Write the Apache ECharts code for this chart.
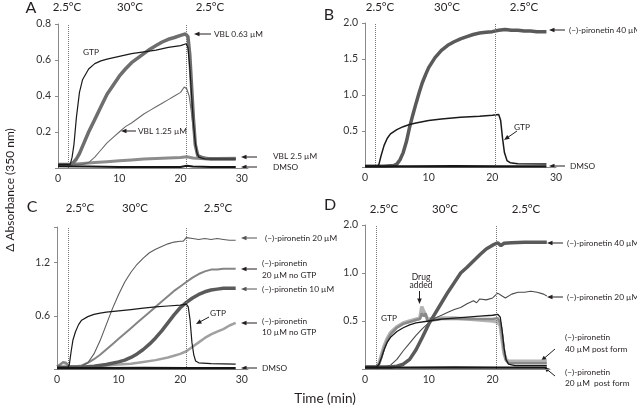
<!DOCTYPE html>
<html><head><meta charset="utf-8">
<script src="https://cdn.jsdelivr.net/npm/echarts@6/dist/echarts.min.js"></script>
<style>html,body{margin:0;padding:0;background:#fff}#c{width:637px;height:413px}</style>
</head><body><div id="c"></div>
<script>
// ---------- Panel A (time min, ΔA350) ----------
const aGTP = [[0,0.02],[1,0.02],[2,0.02],[2.3,0.06],[2.6,0.13],[3,0.28],[3.5,0.42],[4,0.49],[5,0.55],[6,0.58],[7,0.595],[8,0.605],[10,0.62],[12,0.635],[14,0.645],[16,0.655],[18,0.67],[20,0.68],[20.9,0.69],[21.2,0.67],[21.5,0.56],[21.8,0.4],[22.1,0.25],[22.4,0.14],[22.7,0.08],[23,0.06],[24,0.05],[26,0.05],[29,0.05]];
const aVBL063 = [[0,0.02],[2,0.02],[2.5,0.03],[3,0.05],[3.5,0.08],[4,0.12],[5,0.2],[6,0.27],[7,0.34],[8,0.41],[9,0.46],[10,0.51],[11,0.55],[12,0.585],[13,0.61],[14,0.635],[15,0.66],[16,0.68],[17,0.7],[18,0.715],[19,0.725],[20,0.737],[20.8,0.745],[21.2,0.73],[21.5,0.63],[21.8,0.45],[22.1,0.27],[22.4,0.13],[22.8,0.07],[23.5,0.055],[25,0.05],[27,0.05],[29,0.05]];
const aVBL125 = [[0,0.02],[4,0.02],[5,0.03],[6,0.06],[7,0.1],[8,0.14],[9,0.17],[10,0.2],[11,0.23],[12,0.25],[13,0.275],[14,0.3],[15,0.32],[16,0.34],[17,0.36],[18,0.38],[19,0.4],[20,0.42],[20.6,0.45],[21,0.44],[21.4,0.4],[21.8,0.3],[22.2,0.18],[22.6,0.1],[23,0.07],[24,0.06],[26,0.055],[29,0.055]];
const aVBL25 = [[0,0.02],[2,0.02],[4,0.025],[6,0.03],[8,0.035],[10,0.04],[12,0.045],[14,0.05],[16,0.053],[18,0.056],[20,0.058],[21,0.063],[22,0.056],[24,0.052],[26,0.053],[29,0.054]];
const aDMSO = [[0,0.01],[5,0.008],[10,0.005],[15,0.005],[20,0.006],[21,0.012],[22,0.008],[25,0.005],[29,0.005]];

// ---------- Panel B ----------
const bPir40 = [[0,0.01],[3,0.01],[4.5,0.02],[5,0.04],[5.5,0.1],[6,0.2],[6.5,0.35],[7,0.55],[7.5,0.72],[8,0.88],[8.5,1.03],[9,1.17],[9.5,1.28],[10,1.38],[11,1.52],[12,1.62],[13,1.69],[14,1.74],[15,1.78],[16,1.81],[17,1.84],[18,1.86],[19,1.87],[20,1.88],[21,1.9],[22,1.91],[23,1.9],[24,1.9],[25,1.89],[26,1.89],[27,1.88],[28.5,1.88]];
const bGTP = [[0,0.01],[2,0.01],[2.2,0.04],[2.5,0.15],[3,0.3],[3.5,0.4],[4,0.46],[5,0.52],[6,0.56],[7,0.59],[8,0.61],[10,0.645],[12,0.665],[15,0.69],[18,0.705],[20,0.72],[21,0.73],[21.3,0.65],[21.6,0.4],[21.9,0.2],[22.3,0.09],[22.8,0.06],[24,0.045],[28.5,0.04]];
const bDMSO = [[0,0.01],[7,0.01],[14,0.012],[21,0.01],[28.5,0.01]];

// ---------- Panel C ----------
const cPir20 = [[0,0.02],[2,0.02],[4,0.03],[5,0.07],[6,0.17],[7,0.32],[8,0.5],[9,0.68],[10,0.84],[11,0.98],[12,1.09],[13,1.18],[14,1.25],[15,1.31],[16,1.35],[17,1.38],[18,1.41],[19,1.43],[20,1.44],[20.5,1.44],[21,1.48],[22,1.47],[23,1.46],[24,1.47],[25,1.46],[26,1.47],[27,1.46],[28,1.45],[29,1.45]];
const cPir20noGTP = [[0,0.03],[0.5,0.05],[1,0.08],[1.5,0.07],[2,0.03],[3,0.03],[4,0.04],[5,0.07],[6,0.11],[7,0.16],[8,0.22],[9,0.28],[10,0.34],[11,0.4],[12,0.46],[13,0.52],[14,0.58],[15,0.64],[16,0.7],[17,0.76],[18,0.82],[19,0.88],[20,0.93],[21,0.98],[22,1.03],[23,1.07],[24,1.1],[25,1.12],[26,1.12],[27,1.13],[28,1.13],[29,1.13]];
const cPir10 = [[0,0.02],[4,0.02],[6,0.03],[8,0.05],[10,0.08],[11,0.1],[12,0.13],[13,0.17],[14,0.22],[15,0.28],[16,0.35],[17,0.43],[18,0.52],[19,0.61],[20,0.69],[21,0.75],[22,0.8],[23,0.84],[24,0.87],[25,0.89],[26,0.9],[27,0.91],[28,0.91],[29,0.91]];
const cPir10noGTP = [[0,0.03],[0.5,0.05],[1,0.07],[1.5,0.06],[2,0.03],[4,0.02],[6,0.03],[8,0.04],[10,0.05],[12,0.06],[14,0.08],[16,0.1],[18,0.13],[19,0.15],[20,0.17],[21,0.2],[22,0.25],[23,0.3],[24,0.35],[25,0.39],[26,0.42],[27,0.45],[28,0.49],[29,0.52]];
const cGTP = [[0,0.02],[1.8,0.02],[2.0,0.05],[2.3,0.2],[2.6,0.33],[3,0.42],[3.5,0.5],[4,0.55],[5,0.59],[6,0.615],[7,0.63],[8,0.64],[10,0.655],[12,0.67],[14,0.685],[16,0.7],[18,0.71],[20,0.72],[21,0.73],[21.3,0.7],[21.6,0.55],[21.9,0.3],[22.2,0.16],[22.5,0.09],[23,0.07],[25,0.06],[29,0.055]];
const cDMSO = [[0,0.01],[7,0.01],[14,0.012],[21,0.01],[29,0.01]];

// ---------- Panel D ----------
const dPir40 = [[0,0.02],[4,0.02],[5,0.03],[6,0.05],[7,0.1],[8,0.2],[9,0.33],[10,0.47],[11,0.58],[12,0.69],[13,0.8],[14,0.9],[15,1.0],[16,1.12],[17,1.25],[18,1.38],[19,1.5],[20,1.58],[20.8,1.63],[21.3,1.57],[21.8,1.62],[23,1.63],[25,1.64],[27,1.64],[28.5,1.64]];
const dPir20 = [[0,0.02],[3,0.02],[4,0.04],[5,0.1],[6,0.19],[7,0.27],[8,0.35],[9,0.42],[10,0.48],[11,0.53],[12,0.56],[13,0.59],[14,0.62],[15,0.64],[16,0.68],[17,0.71],[17.5,0.69],[18,0.73],[19,0.72],[20,0.74],[20.8,0.79],[21.5,0.76],[22,0.74],[23,0.78],[24,0.8],[25,0.8],[26,0.81],[27,0.8],[28,0.78],[28.5,0.76]];
const dGTP = [[0,0.02],[1.8,0.02],[2.2,0.05],[2.6,0.12],[3,0.2],[3.5,0.28],[4,0.33],[5,0.39],[6,0.43],[7,0.46],[8,0.48],[10,0.5],[12,0.52],[14,0.53],[16,0.54],[18,0.55],[20,0.56],[20.8,0.57],[21.2,0.54],[21.5,0.4],[21.8,0.22],[22.1,0.1],[22.5,0.05],[23.5,0.035],[28.5,0.035]];
const dPF40 = [[0,0.02],[1.8,0.02],[2.2,0.06],[2.6,0.15],[3,0.24],[3.5,0.32],[4,0.38],[5,0.44],[6,0.48],[7,0.5],[8,0.52],[8.6,0.53],[8.9,0.65],[9.2,0.6],[9.5,0.62],[9.8,0.52],[10,0.5],[11,0.52],[12,0.53],[14,0.53],[16,0.52],[18,0.51],[20,0.5],[20.8,0.49],[21.2,0.45],[21.5,0.3],[21.8,0.16],[22.1,0.1],[22.5,0.08],[25,0.08],[28.5,0.08]];
const dPF20 = [[0,0.02],[1.8,0.02],[2.2,0.05],[2.6,0.13],[3,0.22],[3.5,0.3],[4,0.36],[5,0.43],[6,0.47],[7,0.49],[8,0.51],[8.6,0.52],[8.9,0.58],[9.2,0.55],[9.5,0.58],[9.8,0.5],[10,0.48],[11,0.51],[12,0.52],[14,0.52],[16,0.52],[18,0.52],[20,0.52],[20.8,0.53],[21.2,0.48],[21.5,0.35],[21.8,0.18],[22.1,0.09],[22.5,0.06],[25,0.06],[28.5,0.06]];
const dDMSO = [[0,0.015],[7,0.015],[14,0.017],[21,0.015],[28.5,0.015]];

// Temperature-shift times (dotted lines) per panel
const shiftA = [1.7, 20.9];
const shiftB = [1.6, 20.5];
const shiftC = [1.8, 20.9];
const shiftD = [1.7, 20.5];

// Panel D uses a broken y scale: 0–1 expanded, 1–2 compressed
const yTicksD = ['', '0.5', '1.0', '2.0'];
const scaleD = v => v <= 1 ? v * 2 : 2 + (v - 1);

const FONT = 'Lato, "Noto Sans", sans-serif';
const chart = echarts.init(document.getElementById('c'), null, {renderer: 'canvas'});

const grids = [
  {left: 58, top: 24, width: 190, height: 144},
  {left: 365, top: 23, width: 191, height: 144},
  {left: 57, top: 227, width: 191, height: 142},
  {left: 365, top: 225, width: 185, height: 144}
].map(g => Object.assign({containLabel: false, outerBoundsMode: 'none'}, g));

const xMax = [31, 30, 31, 29];
const xAxes = xMax.map((m, i) => ({
  type: 'value', gridIndex: i, min: 0, max: m, interval: 10,
  axisLine: {show: true, lineStyle: {color: '#8a8a8a', width: 1}},
  axisTick: {show: false}, splitLine: {show: false},
  axisLabel: {fontSize: 10.5, color: '#333', fontFamily: FONT, margin: 5,
    formatter: v => (v % 10 === 0 ? String(v) : '')}
}));

function yAxis(i, max, interval, fmt) {
  return {
    type: 'value', gridIndex: i, min: 0, max, interval,
    axisLine: {show: true, lineStyle: {color: '#8a8a8a', width: 1}},
    axisTick: {show: true, length: 3, lineStyle: {color: '#8a8a8a'}},
    splitLine: {show: false},
    axisLabel: {fontSize: 10.5, color: '#333', fontFamily: FONT, margin: 7, formatter: fmt}
  };
}
const yAxes = [
  yAxis(0, 0.8, 0.2, v => v === 0 ? '' : v.toFixed(1)),
  yAxis(1, 2.0, 0.5, v => v === 0 ? '' : v.toFixed(1)),
  yAxis(2, 1.6, 0.6, v => {
    const k = v / 0.6;
    return (v > 0 && Math.abs(k - Math.round(k)) < 1e-6) ? v.toFixed(1) : '';
  }),
  yAxis(3, 3, 1, v => yTicksD[Math.round(v)] || '')
];

function S(gi, data, color, width, z) {
  return {
    type: 'line', xAxisIndex: gi, yAxisIndex: gi, data,
    showSymbol: false, symbol: 'none', smooth: false,
    lineStyle: {color, width}, itemStyle: {color},
    z: z || 2, silent: true, animation: false
  };
}
function shifts(gi, times) {
  return {
    type: 'line', xAxisIndex: gi, yAxisIndex: gi, data: [], silent: true,
    markLine: {
      silent: true, symbol: ['none', 'none'], animation: false,
      label: {show: false},
      lineStyle: {type: 'dotted', color: '#777', width: 1},
      data: times.map(t => ({xAxis: t}))
    }
  };
}
const D = arr => arr.map(([t, v]) => [t, scaleD(v)]);

const series = [
  shifts(0, shiftA), shifts(1, shiftB), shifts(2, shiftC), shifts(3, shiftD),
  // A
  S(0, aVBL25, '#8c8c8c', 3, 2),
  S(0, aVBL125, '#6a6a6a', 1.1, 3),
  S(0, aVBL063, '#6e6e6e', 3.5, 4),
  S(0, aGTP, '#1a1a1a', 1.2, 5),
  S(0, aDMSO, '#151515', 2, 6),
  // B
  S(1, bPir40, '#5a5a5a', 3.5, 3),
  S(1, bGTP, '#1a1a1a', 1.5, 4),
  S(1, bDMSO, '#151515', 2.2, 5),
  // C
  S(2, cPir10noGTP, '#a0a0a0', 2.5, 2),
  S(2, cPir20noGTP, '#858585', 2, 3),
  S(2, cPir10, '#5a5a5a', 3.5, 4),
  S(2, cPir20, '#5c5c5c', 1.1, 5),
  S(2, cGTP, '#1a1a1a', 1.2, 6),
  S(2, cDMSO, '#151515', 2.2, 7),
  // D
  S(3, D(dPF40), '#b3b3b3', 3.5, 2),
  S(3, D(dPF20), '#8a8a8a', 2.5, 3),
  S(3, D(dPir20), '#4a4a4a', 1.1, 4),
  S(3, D(dPir40), '#5a5a5a', 3.5, 5),
  S(3, D(dGTP), '#1a1a1a', 1.3, 6),
  S(3, D(dDMSO), '#151515', 2.2, 7)
];

// ---------- annotations ----------
function T(x, y, s, size, align, extra) {
  return Object.assign({
    type: 'text', x, y, silent: true,
    style: {text: s, fill: '#231f20', font: (size || 8.3) + 'px ' + FONT,
      textAlign: align || 'left', textVerticalAlign: 'middle'}
  }, extra || {});
}
function A(x1, y1, x2, y2, color) {
  color = color || '#231f20';
  const ang = Math.atan2(y2 - y1, x2 - x1), c = Math.cos(ang), s = Math.sin(ang);
  const L = 5.5, W = 2.3;
  return [
    {type: 'line', silent: true, shape: {x1, y1, x2: x2 - c * L * 0.7, y2: y2 - s * L * 0.7},
     style: {stroke: color, lineWidth: 1}},
    {type: 'polygon', silent: true,
     shape: {points: [[x2, y2], [x2 - L * c + W * s, y2 - L * s - W * c], [x2 - L * c - W * s, y2 - L * s + W * c]]},
     style: {fill: color}}
  ];
}
const TEMP = 11.5;
const g = [
  T(31, 8, 'A', 16, 'center'), T(329, 15, 'B', 16, 'center'),
  T(32, 207, 'C', 16, 'center'), T(330, 205, 'D', 16, 'center'),
  T(67, 7, '2.5°C', TEMP, 'center'), T(130, 7, '30°C', TEMP, 'center'), T(210, 7, '2.5°C', TEMP, 'center'),
  T(380, 7, '2.5°C', TEMP, 'center'), T(447, 7, '30°C', TEMP, 'center'), T(524, 7, '2.5°C', TEMP, 'center'),
  T(80, 208, '2.5°C', TEMP, 'center'), T(135, 208, '30°C', TEMP, 'center'), T(218, 208, '2.5°C', TEMP, 'center'),
  T(384, 209, '2.5°C', TEMP, 'center'), T(445, 209, '30°C', TEMP, 'center'), T(526, 209, '2.5°C', TEMP, 'center'),
  T(10, 190, 'Δ Absorbance (350 nm)', 12, 'center', {rotation: Math.PI / 2}),
  T(325, 399, 'Time (min)', 13.5, 'center'),
  // A
  T(83, 52, 'GTP'),
  T(214, 34, 'VBL 0.63 µM'), ...A(211, 34, 194, 34),
  T(138, 131, 'VBL 1.25 µM'), ...A(136, 131, 121, 131),
  T(273, 156, 'VBL 2.5 µM'), ...A(257, 157, 241, 157),
  T(273, 167, 'DMSO'), ...A(257, 167, 241, 167),
  // B
  T(569, 30, '(−)-pironetin 40 µM'), ...A(565, 30, 549, 30),
  T(514, 127, 'GTP'), ...A(517, 131, 504, 140),
  T(570, 166, 'DMSO'), ...A(565, 166, 549, 166),
  // C
  T(265, 238, '(−)-pironetin 20 µM'), ...A(257, 238, 241, 238, '#555'),
  T(262, 263, '(−)-pironetin'), T(262, 275, '20 µM no GTP'), ...A(257, 269, 241, 269),
  T(262, 289, '(−)-pironetin 10 µM'), ...A(257, 289, 241, 289, '#555'),
  T(262, 321, '(−)-pironetin'), T(262, 332, '10 µM no GTP'), ...A(257, 323, 241, 323),
  T(210, 313, 'GTP'), ...A(209, 317, 196, 324),
  T(262, 368, 'DMSO'), ...A(257, 368, 241, 368),
  // D
  T(567, 243, '(−)-pironetin 40 µM'), ...A(563, 243, 547, 243),
  T(567, 297, '(−)-pironetin 20 µM'), ...A(563, 297, 547, 297),
  T(565, 337, '(−)-pironetin'), T(565, 349, '40 µM post form'), ...A(555, 349, 541, 361),
  T(565, 372, '(−)-pironetin'), T(565, 383, '20 µM  post form'), ...A(555, 376, 544, 367),
  T(421, 277.5, 'Drug', 8.5, 'center'), T(421, 285.5, 'added', 8.5, 'center'), ...A(419.5, 291, 419.5, 304),
  T(381, 318, 'GTP')
];

chart.setOption({
  animation: false,
  backgroundColor: '#fff',
  grid: grids, xAxis: xAxes, yAxis: yAxes, series,
  graphic: {elements: g}
});
</script></body></html>
